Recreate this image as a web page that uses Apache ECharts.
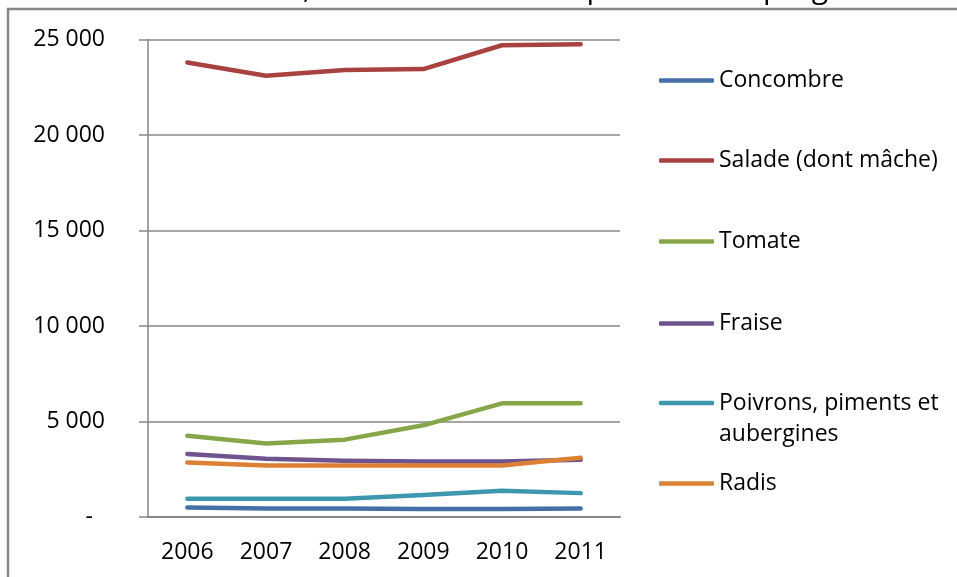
<!DOCTYPE html>
<html>
<head>
<meta charset="utf-8">
<script src="https://cdn.jsdelivr.net/npm/echarts@6/dist/echarts.min.js"></script>
<style>
  html, body { margin: 0; padding: 0; background: #fff; }
  #container { width: 957px; height: 577px; }
</style>
</head>
<body>
<div id="container"></div>
<script>
let chart = echarts.init(document.getElementById('container'));

// data (surfaces, ha)
var years = ['2006', '2007', '2008', '2009', '2010', '2011'];
var concombre = [500, 450, 450, 420, 420, 450];
var salade = [23800, 23100, 23400, 23450, 24700, 24750];
var tomate = [4250, 3850, 4050, 4800, 5950, 5950];
var fraise = [3300, 3050, 2950, 2900, 2900, 3000];
var poivrons = [950, 950, 950, 1150, 1370, 1250];
var radis = [2850, 2700, 2700, 2700, 2700, 3100];

var names = ['Concombre', 'Salade (dont mâche)', 'Tomate', 'Fraise', 'Poivrons, piments et aubergines', 'Radis'];
var values = [concombre, salade, tomate, fraise, poivrons, radis];
var colors = ['#4470a6', '#a8423f', '#87a64a', '#6e548e', '#3d97ae', '#dc8036'];
var legendY = [79, 159, 240, 322, 403, 482];

var font = '"Open Sans", sans-serif';
var gray = '#878787';

function fmt(v) {
    if (v == 0) { return '{z|-}'; }
    var s = String(v);
    return s.slice(0, s.length - 3) + ' ' + s.slice(-3);
}

var series = [];
var legends = [];
for (var i = 0; i < names.length; i++) {
    series.push({
        type: 'line',
        name: names[i],
        data: values[i],
        symbol: 'none',
        color: colors[i],
        lineStyle: { width: 4.5, cap: 'round', join: 'round' }
    });
    var lg = {
        data: [names[i]],
        orient: 'vertical',
        left: 659,
        padding: 0,
        icon: 'roundRect',
        itemWidth: 55,
        itemHeight: 4.5,
        itemGap: 0,
        textStyle: { fontFamily: font, fontSize: 23, color: '#000', lineHeight: 14 },
        top: legendY[i] - 10
    };
    if (names[i].indexOf('aubergines') != -1) {
        // empty first line so the first real line sits level with the icon
        lg.formatter = function () { return ' \nPoivrons, piments et\naubergines'; };
        lg.textStyle.lineHeight = 31;
        lg.top = legendY[i] - 46.5;
    }
    legends.push(lg);
}

var option = {
    animation: false,
    legend: legends,
    grid: {
        left: 148,
        right: 337,
        top: 39.5,
        bottom: 60,
        containLabel: false
    },
    xAxis: {
        type: 'category',
        data: years,
        boundaryGap: true,
        axisLine: { lineStyle: { color: gray, width: 2 } },
        axisTick: { length: 9, lineStyle: { color: gray, width: 1.5 } },
        axisLabel: { fontFamily: font, fontSize: 23, color: '#000', margin: 24 }
    },
    yAxis: {
        type: 'value',
        min: 0,
        max: 25000,
        interval: 5000,
        axisLine: { show: true, lineStyle: { color: gray, width: 1.5 } },
        axisTick: { show: true, length: 9, lineStyle: { color: gray, width: 1.5 } },
        splitLine: { lineStyle: { color: gray, width: 1.5 } },
        axisLabel: {
            fontFamily: font, fontSize: 23, color: '#000', margin: 43,
            formatter: fmt,
            rich: { z: { fontFamily: font, fontSize: 23, color: '#000', padding: [0, 12, 0, 0] } }
        }
    },
    graphic: [
        {
            type: 'rect',
            shape: { x: 8, y: 9, width: 990, height: 620 },
            style: { fill: 'none', stroke: gray, lineWidth: 2.5 },
            z: -1
        },
        {
            type: 'text',
            left: 40,
            top: -26,
            style: {
                text: 'Entre 2006 et 2011, les surfaces de ces productions progressent',
                font: '30px "Open Sans", sans-serif',
                fill: '#000'
            }
        }
    ],
    series: series
};

chart.setOption(option);
</script>
</body>
</html>
